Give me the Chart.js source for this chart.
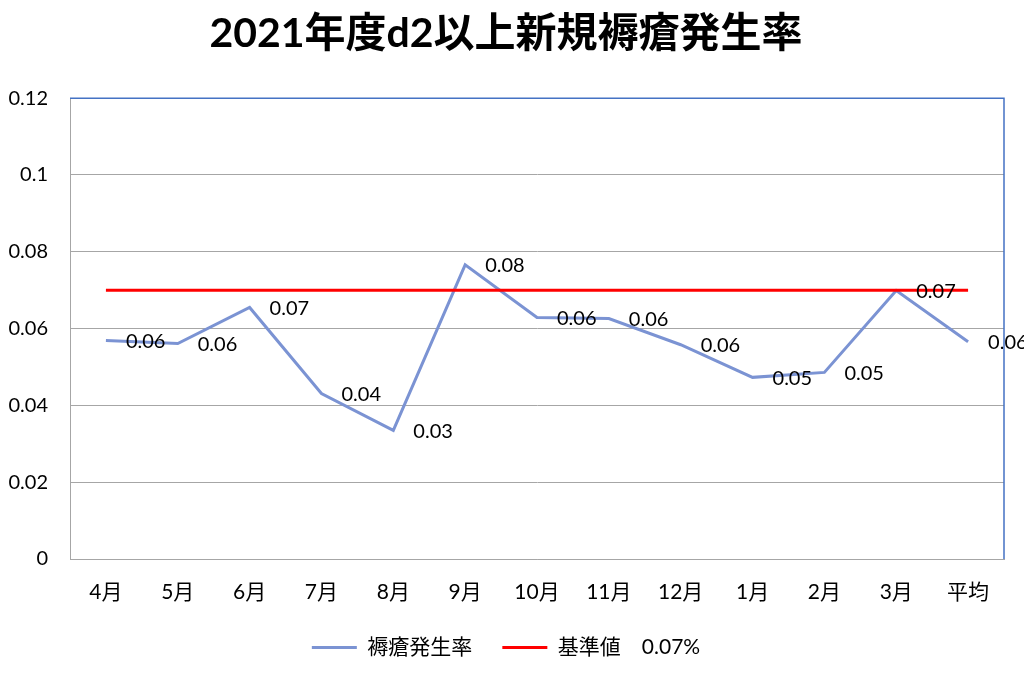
<!DOCTYPE html>
<html lang="ja">
<head>
<meta charset="utf-8">
<title>2021年度d2以上新規褥瘡発生率</title>
<script src="https://cdn.jsdelivr.net/npm/chart.js@4.4.1/dist/chart.umd.min.js"></script>
<style>
  html, body { margin: 0; padding: 0; background: #fff; }
  #wrap { width: 1024px; height: 689px; }
</style>
</head>
<body>
<div id="wrap"><canvas id="chart" width="1024" height="689"></canvas></div>
<script>
// 2021年度 d2以上 新規褥瘡発生率 — monthly rate vs. the 0.07 standard line.

const FONT = "Lato, 'Noto Sans CJK JP', sans-serif";
const BLUE = "#7b93d3";
const RED = "#ff0000";
const GRID = "#a6a6a6";
const FRAME = "#4472c4";

const months = ["4月", "5月", "6月", "7月", "8月", "9月", "10月", "11月", "12月", "1月", "2月", "3月", "平均"];
const rate = [0.0569, 0.0561, 0.0655, 0.0431, 0.0335, 0.0766, 0.0629, 0.0626, 0.0558, 0.0473, 0.0486, 0.0699, 0.0566];
const standard = [0.07, 0.07, 0.07, 0.07, 0.07, 0.07, 0.07, 0.07, 0.07, 0.07, 0.07, 0.07, 0.07];
const yMin = 0;
const yMax = 0.12;
const yStep = 0.02;

// value labels to the right of each point on the rate line
const pointLabels = {
  id: "pointLabels",
  afterDatasetsDraw(chart) {
    const { ctx } = chart;
    const meta = chart.getDatasetMeta(0);
    ctx.save();
    ctx.font = `20px ${FONT}`;
    ctx.fillStyle = "#000";
    ctx.textAlign = "left";
    ctx.textBaseline = "middle";
    meta.data.forEach((pt, i) => ctx.fillText(rate[i].toFixed(2), pt.x + 20, pt.y + 1));
    ctx.restore();
  },
};

// top and right edges of the plot are drawn in blue
const frame = {
  id: "frame",
  afterDraw(chart) {
    const { ctx, chartArea: a } = chart;
    ctx.save();
    ctx.strokeStyle = FRAME;
    ctx.lineWidth = 1.5;
    ctx.beginPath();
    ctx.moveTo(a.left, a.top);
    ctx.lineTo(a.right, a.top);
    ctx.lineTo(a.right, a.bottom);
    ctx.stroke();
    ctx.restore();
  },
};

new Chart(document.getElementById("chart"), {
  type: "line",
  data: {
    labels: months,
    datasets: [
      { label: "褥瘡発生率", data: rate, borderColor: BLUE, backgroundColor: BLUE, borderWidth: 3, pointRadius: 0, tension: 0, order: 1 },
      { label: "基準値　0.07%", data: standard, borderColor: RED, backgroundColor: RED, borderWidth: 3, pointRadius: 0, tension: 0, order: 0 },
    ],
  },
  options: {
    responsive: false,
    animation: false,
    devicePixelRatio: 1,
    layout: { padding: { left: 8, right: 20, top: 8, bottom: 21 } },
    scales: {
      x: {
        offset: true,
        grid: { display: false, drawTicks: false },
        border: { color: GRID, width: 1 },
        ticks: { font: { family: FONT, size: 21 }, color: "#000", padding: 21, maxRotation: 0, autoSkip: false },
        afterFit: (scale) => { scale.height = 48; },
      },
      y: {
        min: yMin,
        max: yMax,
        grid: { color: GRID, drawTicks: false },
        border: { color: GRID, width: 1 },
        ticks: {
          stepSize: yStep,
          font: { family: FONT, size: 20 },
          color: "#000",
          padding: 22,
          callback: (v) => String(Math.round(v * 100) / 100),
        },
        afterFit: (scale) => { scale.width = 62; },
      },
    },
    plugins: {
      title: {
        display: true,
        text: "2021年度d2以上新規褥瘡発生率",
        font: { family: FONT, size: 41, weight: "bold" },
        color: "#000",
        padding: { top: 1, bottom: 40 },
      },
      legend: {
        position: "bottom",
        labels: {
          usePointStyle: true,
          pointStyle: "line",
          pointStyleWidth: 45,
          padding: 30,
          font: { family: FONT, size: 21 },
          color: "#000",
          sort: (a, b) => a.datasetIndex - b.datasetIndex,
        },
      },
      tooltip: { enabled: false },
    },
  },
  plugins: [pointLabels, frame],
});
</script>
</body>
</html>
